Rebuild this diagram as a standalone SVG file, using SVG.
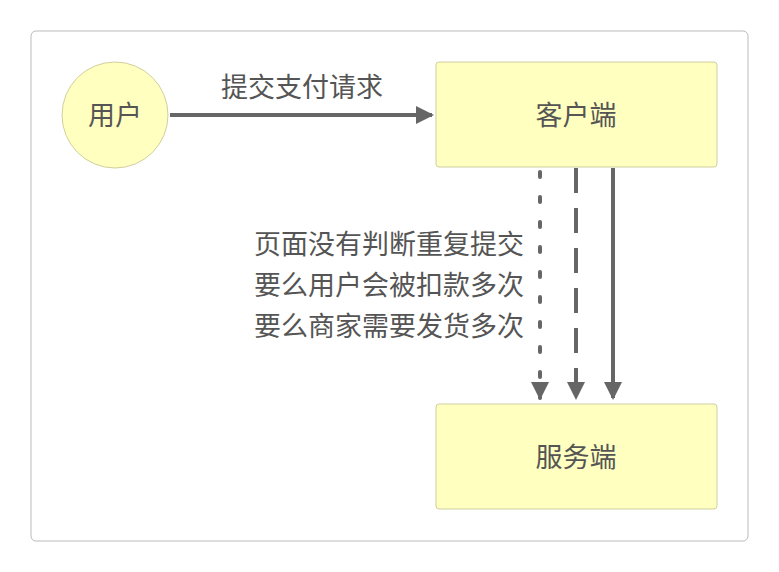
<svg xmlns="http://www.w3.org/2000/svg" width="779" height="572" viewBox="0 0 779 572">
<style>
text{font-family:"Noto Sans CJK SC",sans-serif;fill:#555;font-size:27px}
.n{fill:#ffffc0;stroke:#cfcfa0;stroke-width:1}
.c{stroke:#666;stroke-width:4;fill:none}
</style>
<defs><marker id="a" markerWidth="4.5" markerHeight="4.5" refX="4" refY="2.25" orient="auto" markerUnits="strokeWidth"><path d="M0,0L4.5,2.25L0,4.5z" fill="#666"/></marker></defs>
<rect x="31" y="31" width="717" height="510" rx="5" fill="#fff" stroke="#bbb"/>
<g id="user"><circle cx="115" cy="115" r="53" class="n"/><text x="115" y="125" text-anchor="middle">用户</text></g>
<g id="client"><rect x="436" y="62" width="281" height="105" rx="3" class="n"/><text x="576" y="125" text-anchor="middle">客户端</text></g>
<g id="server"><rect x="436" y="404" width="281" height="105" rx="3" class="n"/><text x="576" y="467" text-anchor="middle">服务端</text></g>
<g id="connectors">
<path d="M540,172V398" class="c" stroke-dasharray="5 20" stroke-linecap="round" marker-end="url(#a)"/>
<path d="M170,115H432" class="c" marker-end="url(#a)"/>
<path d="M576,168V398" class="c" stroke-dasharray="25 15" marker-end="url(#a)"/>
<path d="M613,168V398" class="c" marker-end="url(#a)"/>
</g>
<text x="302" y="97" text-anchor="middle">提交支付请求</text>
<text x="524" y="254" text-anchor="end">页面没有判断重复提交</text>
<text x="524" y="295" text-anchor="end">要么用户会被扣款多次</text>
<text x="524" y="336" text-anchor="end">要么商家需要发货多次</text>
</svg>
